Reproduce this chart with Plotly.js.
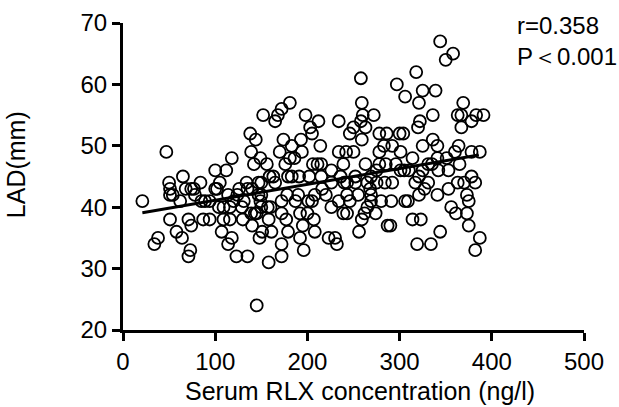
<!DOCTYPE html>
<html>
<head>
<meta charset="utf-8">
<script src="https://cdn.plot.ly/plotly-3.0.1.min.js"></script>
<style>html,body{margin:0;padding:0;background:#fff;}#chart{width:619px;height:407px;}</style>
</head>
<body>
<div id="chart"></div>
<script>
// Serum RLX concentration (ng/l)
const rlx = [21,34,38,47,50,51,51,54,51,58,62,64,65,68,71,71,73,74,74,77,78,84,85,87,89,94,94,100,100,102,104,105,107,109,109,112,114,114,116,116,118,118,120,123,124,126,129,131,134,135,135,138,139,139,140,142,143,144,145,147,147,148,149,149,150,151,152,150,150,156,158,158,159,160,161,163,165,165,168,170,172,172,172,172,172,174,176,177,178,179,179,181,181,183,187,190,191,192,192,193,194,195,196,198,201,202,203,205,206,207,208,208,211,212,214,215,215,216,223,226,226,226,230,232,234,234,234,236,239,239,242,243,243,243,246,246,250,250,252,252,256,258,258,259,259,259,260,262,263,263,265,265,269,269,269,272,274,275,275,278,278,278,280,283,284,286,287,291,292,292,296,297,300,301,301,304,305,306,306,309,314,314,317,318,319,320,321,321,321,322,323,325,325,325,327,331,331,334,336,336,339,341,341,341,342,344,344,350,351,353,353,356,358,360,361,363,363,364,367,367,369,373,373,375,375,378,378,378,382,382,383,387,387,391,
  290,183,186,205,140,130,157,145,200,220,240,255,268,285,310,335,365,370];
// LAD (mm)
const lad = [41,34,35,49,44,42,43,42,38,36,41,35,45,43,38,32,33,37,43,43,42,44,41,38,41,38,41,43,46,43,40,44,36,38,40,46,42,34,40,38,48,35,41,32,42,43,40,41,44,43,32,52,49,39,37,47,39,51,24,44,42,35,41,48,40,36,55,44,42,47,38,31,45,40,36,45,54,44,55,49,56,41,39,34,32,51,47,38,42,45,36,57,48,50,41,42,45,39,35,51,49,37,33,55,41,45,53,52,47,38,42,36,47,54,50,45,47,43,35,40,46,44,35,34,54,49,41,45,47,39,49,44,42,39,52,41,53,49,45,44,36,61,54,57,51,38,55,39,53,47,44,40,45,42,41,55,39,44,46,52,49,47,41,50,44,52,37,41,50,44,47,60,52,49,46,52,46,58,41,41,48,38,44,62,34,53,57,45,42,54,38,59,50,46,43,47,44,34,55,51,59,50,48,42,46,67,36,64,48,46,43,40,65,49,39,44,55,50,55,53,57,42,39,41,37,54,49,45,44,33,55,35,49,55,
  37,45,48,41,43,38,40,39,39,42,44,42,43,47,46,47,47,44];
// Regression line endpoints
const fitX = [21, 386];
const fitY = [39.1, 48.5];
const xTicks = [0,100,200,300,400,500];
const yTicks = [20,30,40,50,60,70];

const FONT = 'Liberation Sans, Arial, Helvetica, sans-serif';

const traces = [
  {
    x: rlx, y: lad, type: 'scatter', mode: 'markers',
    marker: {symbol: 'circle-open', size: 12, color: '#000', line: {width: 1.8, color: '#000'}},
    hoverinfo: 'skip', showlegend: false, cliponaxis: false
  },
  {
    x: fitX, y: fitY, type: 'scatter', mode: 'lines',
    line: {color: '#000', width: 3}, hoverinfo: 'skip', showlegend: false
  }
];

const axisCommon = {
  showgrid: false, zeroline: false, showline: true, linecolor: '#000', linewidth: 3,
  ticks: 'outside', ticklen: 8, tickwidth: 3, tickcolor: '#000',
  tickfont: {family: FONT, size: 24, color: '#000'}
};

const layout = {
  width: 619, height: 407,
  margin: {l: 123, r: 35, t: 23, b: 77},
  paper_bgcolor: '#fff', plot_bgcolor: '#fff',
  showlegend: false,
  xaxis: Object.assign({}, axisCommon, {range: [0, 500], tickvals: xTicks, ticktext: xTicks.map(String)}),
  yaxis: Object.assign({}, axisCommon, {range: [20, 70], tickvals: yTicks, ticktext: yTicks.map(String)}),
  annotations: [
    {text: 'Serum RLX concentration (ng/l)', xref: 'paper', yref: 'paper', x: 0.514, y: -0.198,
     xanchor: 'center', yanchor: 'middle', showarrow: false, font: {family: FONT, size: 25, color: '#000'}},
    {text: 'LAD(mm)', xref: 'paper', yref: 'paper', x: -0.232, y: 0.537, textangle: -90,
     xanchor: 'center', yanchor: 'middle', showarrow: false, font: {family: FONT, size: 25, color: '#000'}},
    {text: 'r=0.358', xref: 'paper', yref: 'paper', x: 0.850, y: 0.992,
     xanchor: 'left', yanchor: 'middle', showarrow: false, font: {family: FONT, size: 24, color: '#000'}},
    {text: 'P＜0.001', xref: 'paper', yref: 'paper', x: 0.850, y: 0.891,
     xanchor: 'left', yanchor: 'middle', showarrow: false, font: {family: FONT, size: 24, color: '#000'}}
  ]
};

Plotly.newPlot('chart', traces, layout, {staticPlot: true, displayModeBar: false});
</script>
</body>
</html>
